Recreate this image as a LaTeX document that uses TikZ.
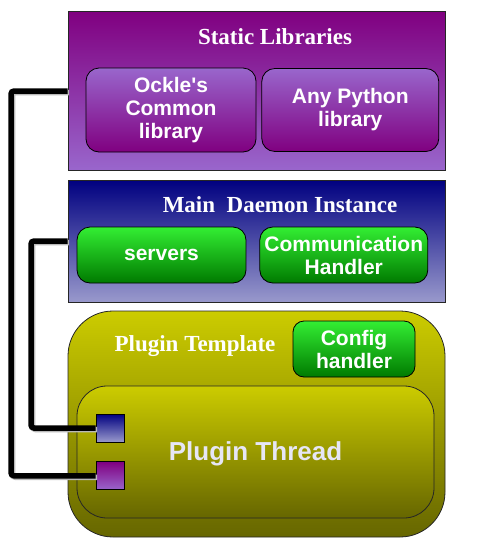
\documentclass[tikz,border=0pt]{standalone}
\usepackage{fontspec}
\setmainfont{Liberation Serif}
\setsansfont{Liberation Sans}
\usetikzlibrary{positioning}

\definecolor{purpdark}{HTML}{800080}
\definecolor{purplight}{HTML}{9966CC}
\definecolor{navydark}{HTML}{000080}
\definecolor{navylight}{HTML}{9999CC}
\definecolor{greenlight}{HTML}{33EE33}
\definecolor{greendark}{HTML}{007A00}
\definecolor{olivelight}{HTML}{CCCC00}
\definecolor{olivedark}{HTML}{666600}
\definecolor{lavtext}{HTML}{E6E6F5}

\tikzset{
  panel/.style={draw=black!85,line width=0.8pt,inner sep=0pt},
  paneltitle/.style={text=white,font=\bfseries\fontsize{23}{25}\selectfont},
  partbox/.style={draw=black,line width=0.8pt,rounded corners=13pt,inner sep=0pt,
    text=white,align=center,font=\sffamily\bfseries\fontsize{21}{23}\selectfont},
  libpart/.style={partbox,top color=purplight,bottom color=purpdark},
  greenpart/.style={partbox,top color=greenlight,bottom color=greendark},
  port/.style={draw=black,line width=0.8pt,inner sep=0pt,minimum size=28pt},
  wire/.style={line width=5.5pt,rounded corners=3pt,
    preaction={draw=gray!55,line width=5.5pt,transform canvas={shift={(1.5pt,-1.5pt)}}}}
}

\begin{document}
\begin{tikzpicture}[x=1pt,y=-1pt]
  \useasboundingbox (0,0) rectangle (480,544);

  % static libraries
  \node[panel,top color=purpdark,bottom color=purplight,minimum width=377pt,minimum height=159pt]
    (statlib) at (256.5,90.5) {};
  \node[paneltitle] (statlibtitle) at (275,37) {Static Libraries};
  \node[libpart,minimum width=170pt,minimum height=84pt] (ockle) at (171,110)
    {Ockle\textquotesingle s\\Common\\library};
  \node[libpart,minimum width=177pt,minimum height=83pt,right=5pt of ockle] (anypy)
    {Any Python\\library};

  % main daemon
  \node[panel,top color=navydark,bottom color=navylight,minimum width=377pt,minimum height=122pt]
    (daemon) at (256.5,241) {};
  \node[paneltitle] (daemontitle) at (280,205) {Main\ \ Daemon Instance};
  \node[greenpart,minimum width=169pt,minimum height=56pt] (servers) at (161.5,255) {servers};
  \node[greenpart,minimum width=168pt,minimum height=56pt,right=13pt of servers] (comm)
    {Communication\\Handler};

  % plugin template
  \node[panel,rounded corners=45pt,top color=olivelight,bottom color=olivedark,
    minimum width=377pt,minimum height=226pt] (plugin) at (256.5,424) {};
  \node[paneltitle] (plugintitle) at (195,346) {Plugin Template};
  \node[greenpart,rounded corners=11pt,minimum width=122pt,minimum height=56pt] (config)
    at (354,349) {Config\\handler};
  \node[panel,rounded corners=30pt,top color=olivelight,bottom color=olivedark,
    minimum width=357pt,minimum height=132pt] (thread) at (255.5,452) {};
  \node[text=lavtext,font=\sffamily\bfseries\fontsize{26}{28}\selectfont] (threadtitle)
    at (255.5,454) {Plugin Thread};
  \node[port,top color=navydark,bottom color=navylight] (bluesq) at (110,428) {};
  \node[port,top color=purpdark,bottom color=purplight,below=19pt of bluesq] (purplesq) {};

  % wires
  \coordinate (libtap) at (statlib.west |- 0,91);
  \coordinate (daemontap) at (daemon.west |- 0,241);
  \draw[wire] (libtap) -- (11,91) |- (purplesq.west);
  \draw[wire] (daemontap) -- (31,241) |- (bluesq.west);
\end{tikzpicture}
\end{document}
